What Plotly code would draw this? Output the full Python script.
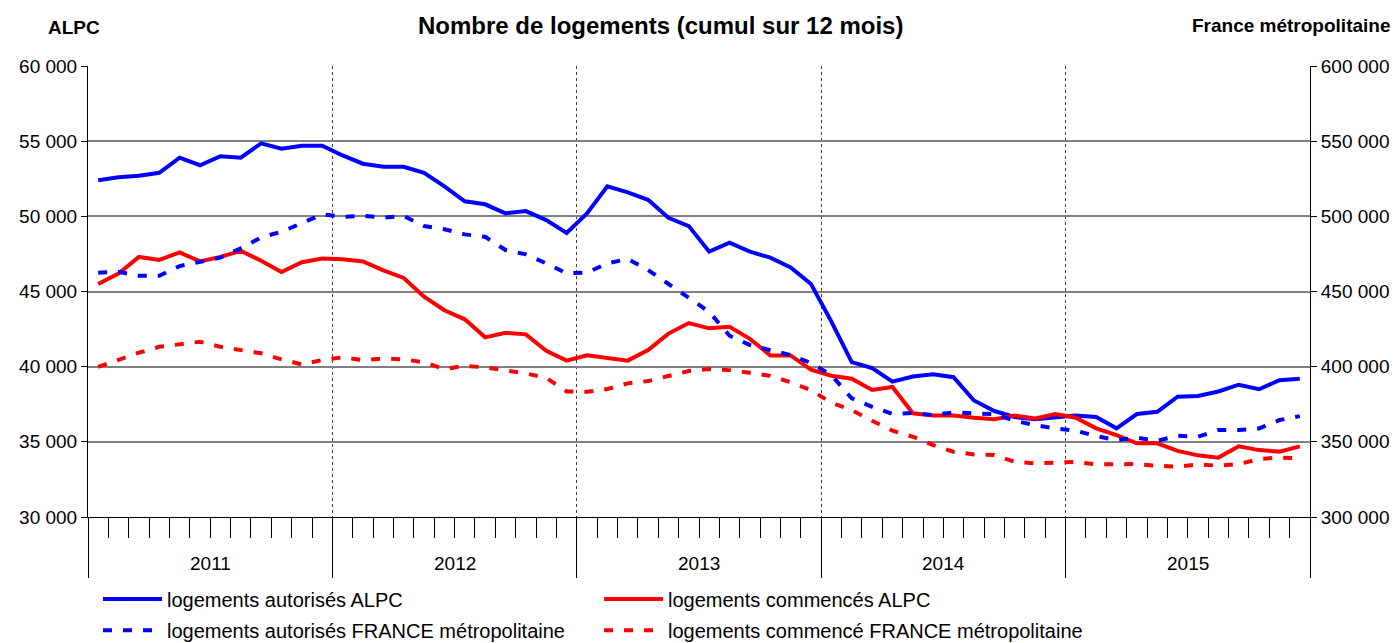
import plotly.graph_objects as go
import numpy as np

years = ["2011", "2012", "2013", "2014", "2015"]

# logements autorisés ALPC (axe gauche)
autorises_alpc = [
    52400, 52600, 52700, 52900, 53900, 53400, 54000, 53900, 54850, 54500, 54700, 54700,
    54050, 53500, 53300, 53300, 52900, 52000, 51000, 50800, 50200, 50350, 49750, 48900,
    50200, 52000, 51600, 51100, 49900, 49350, 47650, 48250, 47650, 47250, 46600, 45500,
    43000, 40300, 39900, 39000, 39350, 39500, 39300, 37750, 37050, 36650, 36500, 36650,
    36750, 36650, 35900, 36850, 37000, 38000, 38050, 38350, 38800, 38500, 39100, 39200,
]
# logements commencés ALPC (axe gauche)
commences_alpc = [
    45500, 46200, 47300, 47100, 47600, 47000, 47300, 47700, 47050, 46300, 46950, 47200,
    47150, 47000, 46400, 45900, 44650, 43750, 43150, 41950, 42250, 42150, 41050, 40400,
    40750, 40600, 40400, 41100, 42200, 42900, 42550, 42650, 41850, 40750, 40750, 39800,
    39400, 39200, 38450, 38650, 36900, 36750, 36750, 36600, 36500, 36750, 36550, 36850,
    36600, 35900, 35450, 34900, 34900, 34400, 34100, 33950, 34700, 34450, 34350, 34700,
]
# logements autorisés FRANCE métropolitaine (axe droit)
autorises_france = [
    462500, 463100, 460500, 460500, 466900, 469800, 472500, 478700, 486000, 489700, 495300, 501300,
    499700, 500400, 499100, 500200, 493600, 491400, 488000, 486400, 477600, 474700, 468700, 462100,
    462500, 468700, 471600, 464300, 455000, 445400, 436500, 420600, 414400, 411000, 407700, 402500,
    394400, 378900, 373300, 368500, 369300, 367800, 369600, 368900, 368500, 364000, 361100, 358900,
    357400, 353800, 351200, 352700, 350700, 354000, 353400, 357800, 357800, 358900, 364500, 367100,
]
# logements commencés FRANCE métropolitaine (axe droit)
commences_france = [
    399900, 404900, 409300, 413200, 415000, 416600, 413200, 411000, 408900, 404900, 401500, 404400,
    406200, 404400, 405500, 404900, 402900, 398400, 400600, 399500, 397700, 395500, 392600, 383500,
    383300, 385100, 388900, 390400, 393800, 397100, 398400, 397700, 395900, 393900, 389600, 384400,
    376000, 371100, 364000, 357400, 353400, 347800, 343400, 341600, 341200, 336700, 335700, 336100,
    336700, 335000, 335200, 335200, 334100, 333400, 335000, 334100, 335200, 338500, 339600, 339000,
]

left_ticks = [30000, 35000, 40000, 45000, 50000, 55000, 60000]
right_ticks = [300000, 350000, 400000, 450000, 500000, 550000, 600000]


def fmt(v):
    return f"{v:,}".replace(",", " ")


n = len(autorises_alpc)
x = np.arange(n) + 0.5
FONT = "Arial, 'Liberation Sans', sans-serif"
BLUE = "#0000FF"
RED = "#FF0000"
DASH = "9px,11px"

fig = go.Figure()
fig.add_trace(go.Scatter(x=x, y=autorises_alpc, name="logements autorisés ALPC",
                         mode="lines", line=dict(color=BLUE, width=4), legend="legend"))
fig.add_trace(go.Scatter(x=x, y=commences_alpc, name="logements commencés ALPC",
                         mode="lines", line=dict(color=RED, width=4), legend="legend"))
fig.add_trace(go.Scatter(x=x, y=autorises_france, name="logements autorisés FRANCE métropolitaine",
                         mode="lines", yaxis="y2", line=dict(color=BLUE, width=4, dash=DASH),
                         legend="legend2"))
fig.add_trace(go.Scatter(x=x, y=commences_france, name="logements commencé FRANCE métropolitaine",
                         mode="lines", yaxis="y2", line=dict(color=RED, width=4, dash=DASH),
                         legend="legend2"))

legend_common = dict(orientation="h", x=0.0082, xanchor="left", yanchor="middle",
                     entrywidth=427, entrywidthmode="pixels", itemwidth=59,
                     font=dict(size=20, family=FONT, color="black"),
                     bgcolor="rgba(0,0,0,0)", tracegroupgap=0)

fig.update_layout(
    width=1397, height=643,
    margin=dict(l=88, r=87, t=66, b=126, autoexpand=False),
    paper_bgcolor="white", plot_bgcolor="white",
    font=dict(family=FONT, color="black", size=19),
    showlegend=True,
    legend=dict(legend_common, y=-0.1818),
    legend2=dict(legend_common, y=-0.2510),
    xaxis=dict(range=[0, n], tickmode="array", tickvals=list(range(0, n + 1, 12)),
               ticks="outside", ticklen=60, tickcolor="black", tickwidth=1,
               showticklabels=False, showgrid=True, griddash="dot",
               gridcolor="#404040", gridwidth=1, showline=True,
               linecolor="black", linewidth=1, zeroline=False, automargin=False,
               minor=dict(tickmode="linear", tick0=0, dtick=1, ticks="outside", ticklen=20,
                          tickcolor="black", tickwidth=1, showgrid=False)),
    yaxis=dict(range=[30000, 60000], tickmode="array", tickvals=left_ticks,
               ticktext=[fmt(v) for v in left_ticks], ticks="outside", ticklen=6,
               tickcolor="black", showgrid=True, gridcolor="#808080", gridwidth=1.5,
               showline=True, linecolor="black", linewidth=1, zeroline=False,
               tickfont=dict(size=19), automargin=False),
    yaxis2=dict(overlaying="y", side="right", range=[300000, 600000], tickmode="array",
                tickvals=right_ticks, ticktext=[fmt(v) for v in right_ticks],
                ticks="outside", ticklen=6, tickcolor="black", showgrid=False,
                showline=True, linecolor="black", linewidth=1, zeroline=False,
                tickfont=dict(size=19), automargin=False),
)

annotations = [
    dict(text="<b>Nombre de logements (cumul sur 12 mois)</b>", xref="paper", yref="paper",
         x=0.4681, y=1.0909, xanchor="center", yanchor="middle", showarrow=False,
         font=dict(size=24, family=FONT, color="black")),
    dict(text="<b>ALPC</b>", xref="paper", yref="paper", x=-0.0115, y=1.0843,
         xanchor="center", yanchor="middle", showarrow=False,
         font=dict(size=19, family=FONT, color="black")),
    dict(text="<b>France métropolitaine</b>", xref="paper", yref="paper", x=1.0679, y=1.0887,
         xanchor="right", yanchor="middle", showarrow=False,
         font=dict(size=19, family=FONT, color="black")),
]
for k, yr in enumerate(years):
    annotations.append(dict(text=yr, xref="x", yref="paper", x=12 * k + 6, y=-0.102,
                            xanchor="center", yanchor="middle", showarrow=False,
                            font=dict(size=19, family=FONT, color="black")))
fig.update_layout(annotations=annotations)

fig.write_html("out.html", config={"displayModeBar": False},
               post_script="document.body.style.margin='0';")
